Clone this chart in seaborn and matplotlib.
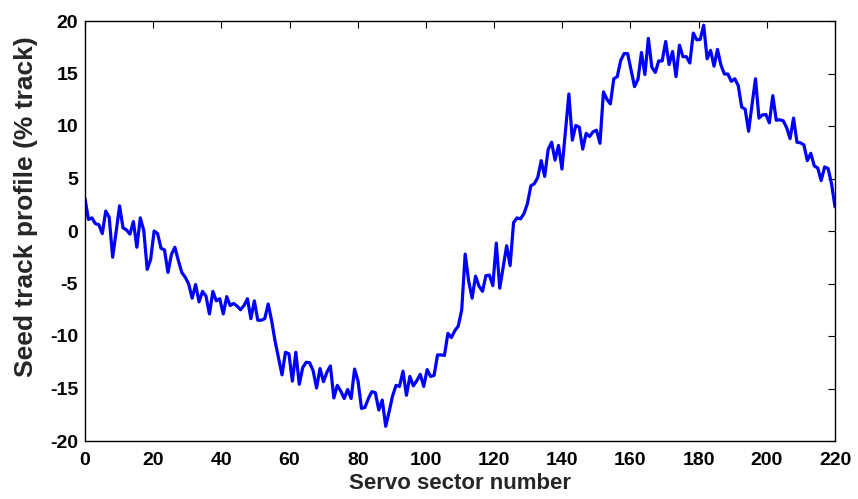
import numpy as np
import pandas as pd
import matplotlib
matplotlib.use("Agg")
import matplotlib.pyplot as plt
import seaborn as sns

# Seed track profile, one value per servo sector sample (% of track)
profile = [
    3.1, 1.1, 1.25, 0.7, 0.6, -0.25, 1.9, 1.3, -2.5, -0.1,
    2.4, 0.3, 0.1, -0.3, 0.9, -1.55, 1.25, 0.05, -3.65, -2.7,
    0.0, -0.25, -1.65, -1.8, -3.95, -2.25, -1.55, -2.8, -3.95, -4.4,
    -5.05, -6.4, -5.1, -6.75, -5.75, -6.2, -7.9, -5.75, -6.65, -6.45,
    -7.9, -6.25, -7.1, -6.9, -7.15, -7.5, -7.1, -6.45, -8.35, -6.65,
    -8.5, -8.5, -8.35, -6.95, -8.55, -10.5, -12.1, -13.7, -11.55, -11.7,
    -14.3, -11.55, -14.6, -13.0, -12.5, -12.55, -13.3, -14.95, -13.1, -14.35,
    -13.45, -12.85, -15.9, -14.7, -15.25, -15.95, -15.1, -15.95, -13.15, -14.3,
    -16.9, -16.8, -15.95, -15.3, -15.4, -17.05, -16.1, -18.6, -17.2, -15.7,
    -14.7, -14.8, -13.35, -15.65, -13.85, -14.75, -14.25, -13.65, -14.8, -13.2,
    -13.85, -13.75, -11.8, -11.8, -11.85, -9.75, -10.15, -9.5, -9.05, -7.5,
    -2.2, -4.75, -6.4, -4.3, -5.25, -5.75, -4.25, -4.2, -5.2, -1.15,
    -5.45, -3.45, -1.4, -3.3, 0.8, 1.25, 1.15, 1.65, 2.6, 4.3,
    4.5, 5.1, 6.7, 5.2, 7.75, 8.45, 6.75, 8.15, 5.9, 9.5,
    13.05, 8.65, 10.05, 9.9, 7.8, 9.3, 9.0, 9.45, 9.6, 8.35,
    13.25, 12.55, 12.1, 14.5, 14.7, 16.25, 16.9, 16.9, 15.35, 13.75,
    14.45, 17.0, 14.9, 18.35, 15.6, 15.1, 16.2, 16.2, 18.05, 15.85,
    17.1, 14.7, 17.7, 16.6, 16.6, 16.0, 18.85, 18.2, 18.25, 19.6,
    16.4, 17.2, 15.7, 17.3, 15.8, 14.95, 14.95, 14.25, 14.5, 13.85,
    11.8, 11.6, 9.5, 12.05, 14.5, 10.75, 11.05, 11.1, 10.3, 12.9,
    10.55, 10.6, 10.5, 9.85, 8.8, 10.75, 8.45, 8.4, 8.2, 6.7,
    7.4, 6.2, 6.0, 4.8, 6.1, 5.95, 4.5, 2.3,
]
sector_range = (0, 220)
x_ticks = [0, 20, 40, 60, 80, 100, 120, 140, 160, 180, 200, 220]
y_ticks = [-20, -15, -10, -5, 0, 5, 10, 15, 20]

# samples are spread evenly over the sector range
sector = np.linspace(sector_range[0], sector_range[1], len(profile))
df = pd.DataFrame({"sector": sector, "profile": profile})

sns.set_style("white")
plt.rcParams["font.family"] = ["Liberation Sans", "DejaVu Sans"]
plt.rcParams["font.weight"] = "bold"

fig = plt.figure(figsize=(8.58, 4.99), dpi=100)
ax = fig.add_axes([85 / 858, 1 - 441 / 499, 750 / 858, 420 / 499])

sns.lineplot(data=df, x="sector", y="profile", color=(0, 0, 1), linewidth=2.3,
             ax=ax, estimator=None, sort=False)

ax.set_xlim(*sector_range)
ax.set_ylim(-20, 20)
ax.set_xticks(x_ticks)
ax.set_yticks(y_ticks)
ax.set_xticklabels([str(t) for t in x_ticks], fontsize=14, fontweight="bold")
ax.set_yticklabels([str(t) for t in y_ticks], fontsize=14, fontweight="bold")
ax.set_xlabel("Servo sector number", fontsize=16, fontweight="bold", labelpad=3)
ax.set_ylabel("Seed track profile (% track)", fontsize=19, fontweight="bold")
ax.yaxis.set_label_coords(-0.063, 0.557)

ax.tick_params(direction="in", length=5, width=0.8, top=True, right=True,
               colors="black")
ax.tick_params(axis="x", pad=8)
ax.tick_params(axis="y", pad=5)
for side in ax.spines.values():
    side.set_visible(True)
    side.set_color("black")
    side.set_linewidth(1.0)

fig.savefig("out.png", dpi=100)
